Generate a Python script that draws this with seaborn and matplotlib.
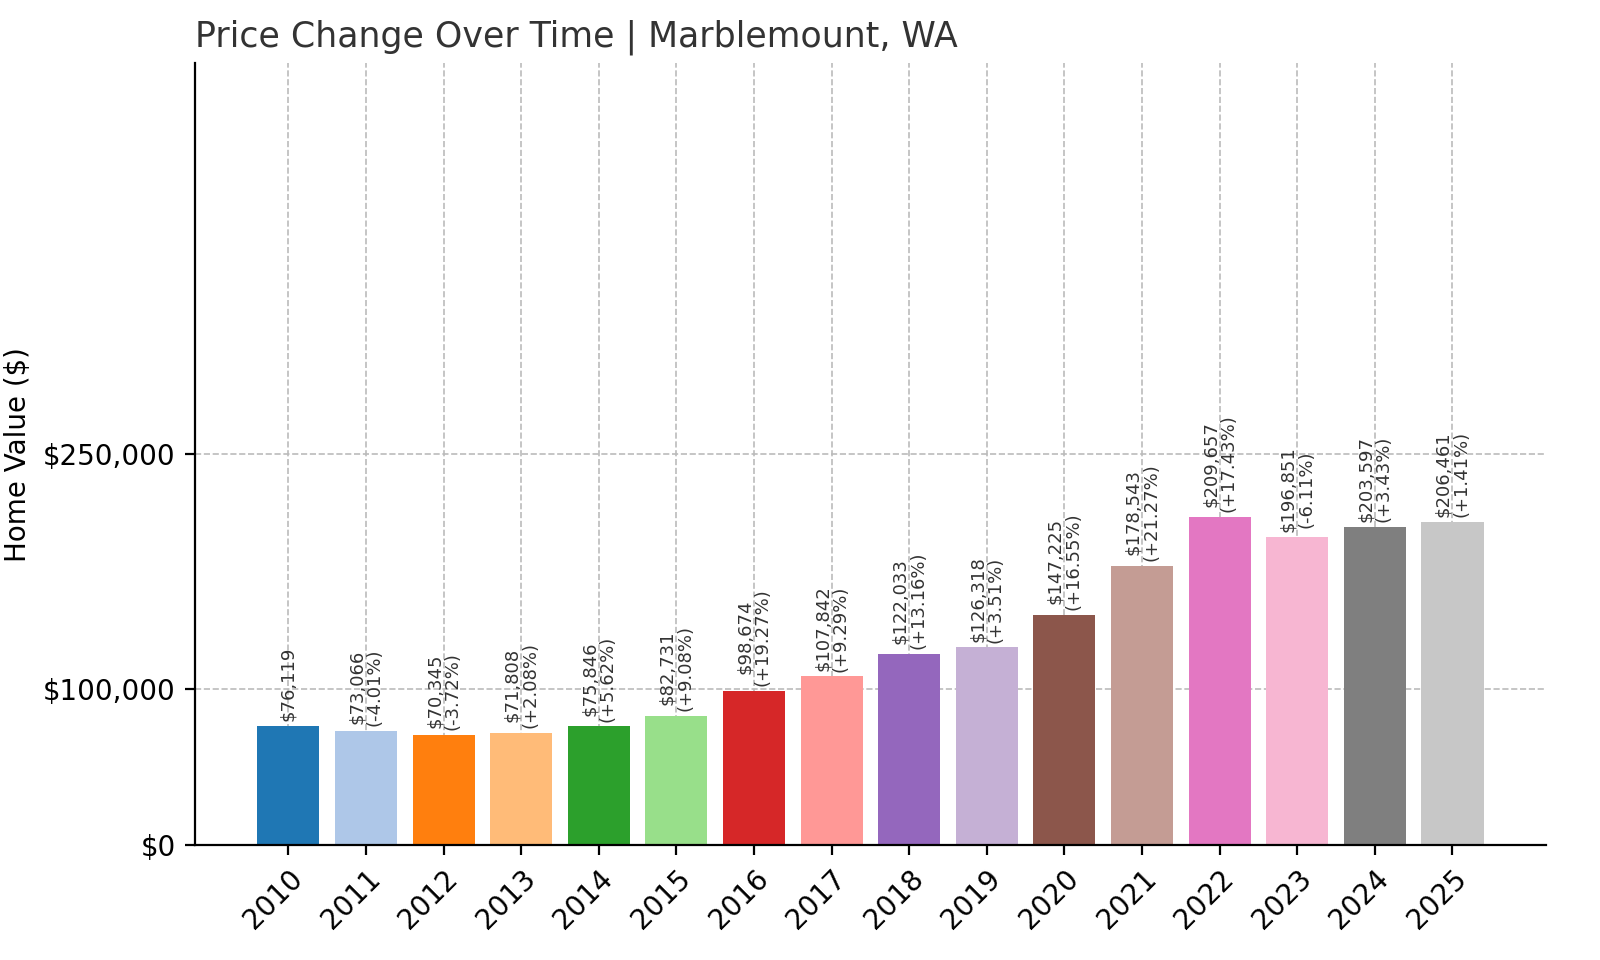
import matplotlib
matplotlib.use("Agg")
import matplotlib.pyplot as plt
import seaborn as sns
import pandas as pd

years = [str(y) for y in range(2010, 2026)]
values = [76119, 73066, 70345, 71808, 75846, 82731, 98674, 107842, 122033,
          126318, 147225, 178543, 209657, 196851, 203597, 206461]
changes = [None, -4.01, -3.72, 2.08, 5.62, 9.08, 19.27, 9.29, 13.16,
           3.51, 16.55, 21.27, 17.43, -6.11, 3.43, 1.41]

df = pd.DataFrame({"year": years, "value": values})
colors = sns.color_palette("tab20", 16)

fig, ax = plt.subplots(figsize=(8, 4.8), dpi=200)
sns.barplot(data=df, x="year", y="value", hue="year", palette=colors,
            legend=False, width=0.8, saturation=1, ax=ax, zorder=2)

for i, (v, c) in enumerate(zip(values, changes)):
    label = f"${v:,}" if c is None else f"${v:,}\n({c:+.2f}%)"
    ax.text(i, v + 3000, label, rotation=90, ha="center", va="bottom",
            fontsize=6.5, color="#333333", linespacing=1.0)

ax.set_ylim(0, 500000)
ax.set_xlim(-1.2, 16.2)
ax.set_yticks([0, 100000, 250000])
ax.set_yticklabels(["$0", "$100,000", "$250,000"])
ax.set_xlabel("")
ax.set_ylabel("Home Value ($)", fontsize=10)
ax.set_title("Price Change Over Time | Marblemount, WA", loc="left",
             fontsize=12.5, color="#333333")
ax.grid(True, linestyle="--", color="#bbbbbb", linewidth=0.6, zorder=0)
ax.set_axisbelow(True)
for s in ["top", "right"]:
    ax.spines[s].set_visible(False)
plt.xticks(rotation=45, ha="right", rotation_mode="anchor")
ax.tick_params(labelsize=10)
plt.subplots_adjust(left=0.122, right=0.966, top=0.934, bottom=0.12)
plt.savefig("out.png")
